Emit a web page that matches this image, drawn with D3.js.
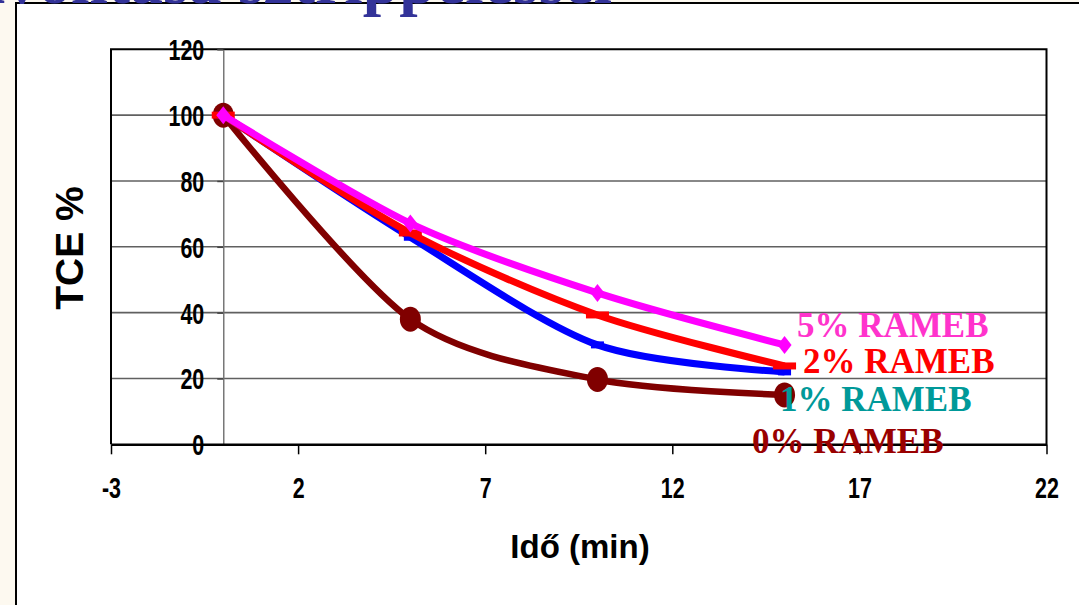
<!DOCTYPE html>
<html>
<head>
<meta charset="utf-8">
<script src="https://cdn.jsdelivr.net/npm/d3@7"></script>
<style>
  html, body { margin: 0; padding: 0; background: #FDF9F0; }
  svg { display: block; }
</style>
</head>
<body>
<svg id="chart" width="1079" height="605"></svg>
<script>
// ---- data ----
const times = [0, 5, 10, 15];
const tce0 = [100, 38, 19.7, 15];
const tce1 = [100, 62.9, 30.2, 22];
const tce2 = [100, 64.2, 39.3, 23.8];
const tce5 = [100, 67.1, 46, 30.2];
const seriesNames = ["0% RAMEB", "1% RAMEB", "2% RAMEB", "5% RAMEB"];
const xTicks = [-3, 2, 7, 12, 17, 22];
const yTicks = [0, 20, 40, 60, 80, 100, 120];
const xTitle = "Idő (min)";
const yTitle = "TCE %";
const slideTitle = "Szennyezés eltávolítása sztrippeléssel";

// ---- layout ----
const svg = d3.select("#chart");
const L = 111, R = 1046.5, T = 49.3, B = 444.3;
const x = d3.scaleLinear().domain([-3, 22]).range([L, R]);
const y = d3.scaleLinear().domain([0, 120]).range([B, T]);

// outer frame (slide content box)
svg.append("rect").attr("x", 16).attr("y", 3).attr("width", 1200).attr("height", 700)
  .attr("fill", "#ffffff").attr("stroke", "#000").attr("stroke-width", 2);

// gridlines
svg.append("g").selectAll("line").data(yTicks.filter(v => v > 0 && v < 120)).join("line")
  .attr("x1", L).attr("x2", R).attr("y1", d => y(d)).attr("y2", d => y(d))
  .attr("stroke", "#606060").attr("stroke-width", 1.6);

// plot border (top, left, right)
svg.append("path")
  .attr("d", `M${L},${B} L${L},${T} L${R},${T} L${R},${B}`)
  .attr("fill", "none").attr("stroke", "#000").attr("stroke-width", 2);

const squish = 0.74;
const fmt = d => String(d);

// y axis at x = 0
const yAxis = svg.append("g").attr("transform", `translate(${x(0)},0)`)
  .call(d3.axisLeft(y).tickValues(yTicks).tickFormat(fmt).tickSize(6).tickPadding(18).tickSizeOuter(0));
yAxis.select(".domain").attr("stroke", "#777").attr("stroke-width", 1.5);
yAxis.selectAll(".tick line").attr("stroke", "#444").attr("stroke-width", 1.5);
yAxis.selectAll(".tick text")
  .attr("font-family", "Arial, 'Liberation Sans', sans-serif").attr("font-weight", "bold")
  .attr("font-size", 29).attr("fill", "#000")
  .attr("x", -19 / squish).attr("dy", "0.36em")
  .attr("transform", `scale(${squish},1)`);

// x axis at y = 0
const xAxis = svg.append("g").attr("transform", `translate(0,${B})`)
  .call(d3.axisBottom(x).tickValues(xTicks).tickFormat(fmt).tickSize(10).tickPadding(23).tickSizeOuter(0));
xAxis.select(".domain").attr("stroke", "#000").attr("stroke-width", 2.5);
xAxis.selectAll(".tick line").attr("stroke", "#000").attr("stroke-width", 1.5);
xAxis.selectAll(".tick text")
  .attr("font-family", "Arial, 'Liberation Sans', sans-serif").attr("font-weight", "bold")
  .attr("font-size", 29).attr("fill", "#000")
  .attr("transform", `scale(${squish},1)`)
  .attr("x", 0).attr("dy", "0.71em");

// axis titles
svg.append("text").attr("x", 580).attr("y", 558).attr("text-anchor", "middle")
  .attr("font-family", "Arial, 'Liberation Sans', sans-serif").attr("font-weight", "bold")
  .attr("font-size", 33).text(xTitle);
svg.append("text").attr("transform", "translate(83,248) rotate(-90)").attr("text-anchor", "middle")
  .attr("font-family", "Arial, 'Liberation Sans', sans-serif").attr("font-weight", "bold")
  .attr("font-size", 39).text(yTitle);

// series
const line = d3.line().x(d => x(d[0])).y(d => y(d[1])).curve(d3.curveCardinal.tension(0.15));
const series = [
  { name: seriesNames[0], vals: tce0, color: "#800000", width: 6.5, marker: "circle" },
  { name: seriesNames[1], vals: tce1, color: "#0000FF", width: 7, marker: "short" },
  { name: seriesNames[2], vals: tce2, color: "#FF0000", width: 7, marker: "long" },
  { name: seriesNames[3], vals: tce5, color: "#FF00FF", width: 7, marker: "diamond" }
];
series.forEach(s => {
  const pts = times.map((t, i) => [t, s.vals[i]]);
  const g = svg.append("g");
  g.append("path").attr("d", line(pts)).attr("fill", "none")
    .attr("stroke", s.color).attr("stroke-width", s.width)
    .attr("stroke-linejoin", "round").attr("stroke-linecap", "butt");
  const m = g.selectAll(".m").data(pts).join("g")
    .attr("transform", d => `translate(${x(d[0])},${y(d[1])})`);
  if (s.marker === "circle") {
    m.append("ellipse").attr("rx", 10.5).attr("ry", 12.5).attr("fill", s.color);
  } else if (s.marker === "short") {
    m.append("rect").attr("x", -6.5).attr("y", -3.5).attr("width", 13).attr("height", 7).attr("fill", s.color);
  } else if (s.marker === "long") {
    m.append("rect").attr("x", -11.5).attr("y", -3.5).attr("width", 23).attr("height", 7).attr("fill", s.color);
  } else {
    m.append("path").attr("d", "M0,-9 L7,0 L0,9 L-7,0 Z").attr("fill", s.color);
  }
});

// series labels
const labels = [
  { text: seriesNames[3], x: 797, y: 337, color: "#FF33CC" },
  { text: seriesNames[2], x: 803, y: 373, color: "#FF0000" },
  { text: seriesNames[1], x: 780, y: 411, color: "#009999" },
  { text: seriesNames[0], x: 752, y: 453, color: "#990000" }
];
svg.append("g").selectAll("text").data(labels).join("text")
  .attr("x", d => d.x).attr("y", d => d.y).attr("fill", d => d.color)
  .attr("font-family", "'Liberation Serif', 'Times New Roman', serif").attr("font-weight", "bold")
  .attr("font-size", 35).text(d => d.text);

// slide title (cut off at the top)
svg.append("text").attr("x", 612).attr("y", 3).attr("text-anchor", "end")
  .attr("fill", "#333399").attr("font-family", "'Liberation Serif', 'Times New Roman', serif")
  .attr("font-weight", "bold").attr("font-size", 66).text(slideTitle);
</script>
</body>
</html>
